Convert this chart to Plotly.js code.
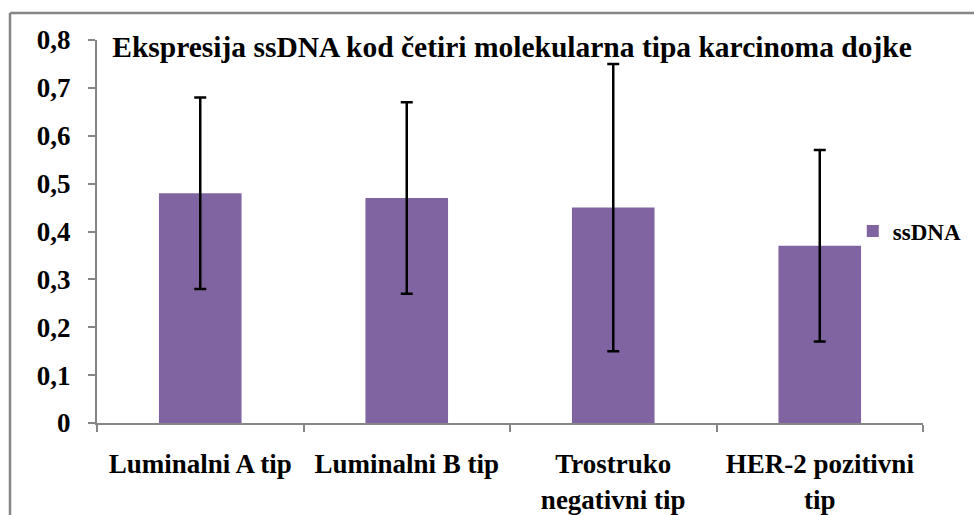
<!DOCTYPE html>
<html>
<head>
<meta charset="utf-8">
<script src="https://cdn.plot.ly/plotly-3.0.1.min.js"></script>
<style>html,body{margin:0;padding:0;background:#fff;}#chart{width:974px;height:515px;}</style>
</head>
<body>
<div id="chart"></div>
<script>
const categories = ["Luminalni A tip", "Luminalni B tip", "Trostruko<br>negativni tip", "HER-2 pozitivni<br>tip"];
const values = [0.48, 0.47, 0.45, 0.37];
const errors = [0.20, 0.20, 0.30, 0.20];
const seriesName = "ssDNA";
const titleText = "Ekspresija ssDNA kod četiri molekularna tipa karcinoma dojke";

const FONT = "Liberation Serif";
const GRAY = "#868686";

const trace = {
  type: "bar",
  x: categories,
  y: values,
  name: seriesName,
  marker: {color: "#8064A2"},
  error_y: {type: "data", array: errors, visible: true, color: "#000", thickness: 2.5, width: 6},
  showlegend: true
};

const layout = {
  width: 974, height: 515,
  margin: {l: 97, r: 51, t: 40, b: 92, autoexpand: false},
  paper_bgcolor: "#fff", plot_bgcolor: "#fff",
  separators: ",.",
  font: {family: FONT, color: "#000", weight: 700},
  bargap: 0.6,
  title: {
    text: titleText,
    font: {family: FONT, size: 29.5, weight: 700, color: "#000"},
    x: 512/974, xanchor: "center", xref: "container",
    y: 1 - 47/515, yanchor: "middle", yref: "container"
  },
  xaxis: {
    showline: true, linecolor: GRAY, linewidth: 2,
    ticks: "outside", tickson: "boundaries", ticklen: 7, tickcolor: GRAY, tickwidth: 2,
    tickfont: {family: FONT, size: 27, weight: 700},
    ticklabelstandoff: 16,
    showgrid: false, zeroline: false, fixedrange: true, automargin: false
  },
  yaxis: {
    range: [0, 0.8], dtick: 0.1, tick0: 0,
    showline: true, linecolor: GRAY, linewidth: 2,
    ticks: "outside", ticklen: 7, tickcolor: GRAY, tickwidth: 2,
    tickfont: {family: FONT, size: 27, weight: 700},
    ticklabelstandoff: 12,
    showgrid: false, zeroline: false, fixedrange: true, automargin: false
  },
  legend: {
    x: 0.915, xanchor: "left", y: 0.501, yanchor: "middle",
    bgcolor: "rgba(0,0,0,0)", borderwidth: 0,
    font: {family: FONT, size: 23, weight: 700}
  },
  shapes: [
    {type: "line", xref: "paper", yref: "paper", x0: (10-97)/826, x1: (1000-97)/826, y0: (423-13)/383, y1: (423-13)/383, line: {color: GRAY, width: 2.5}},
    {type: "line", xref: "paper", yref: "paper", x0: (10-97)/826, x1: (10-97)/826, y0: (423-13)/383, y1: (423-540)/383, line: {color: GRAY, width: 2.5}}
  ]
};

Plotly.newPlot("chart", [trace], layout, {displayModeBar: false, staticPlot: true});
</script>
</body>
</html>
